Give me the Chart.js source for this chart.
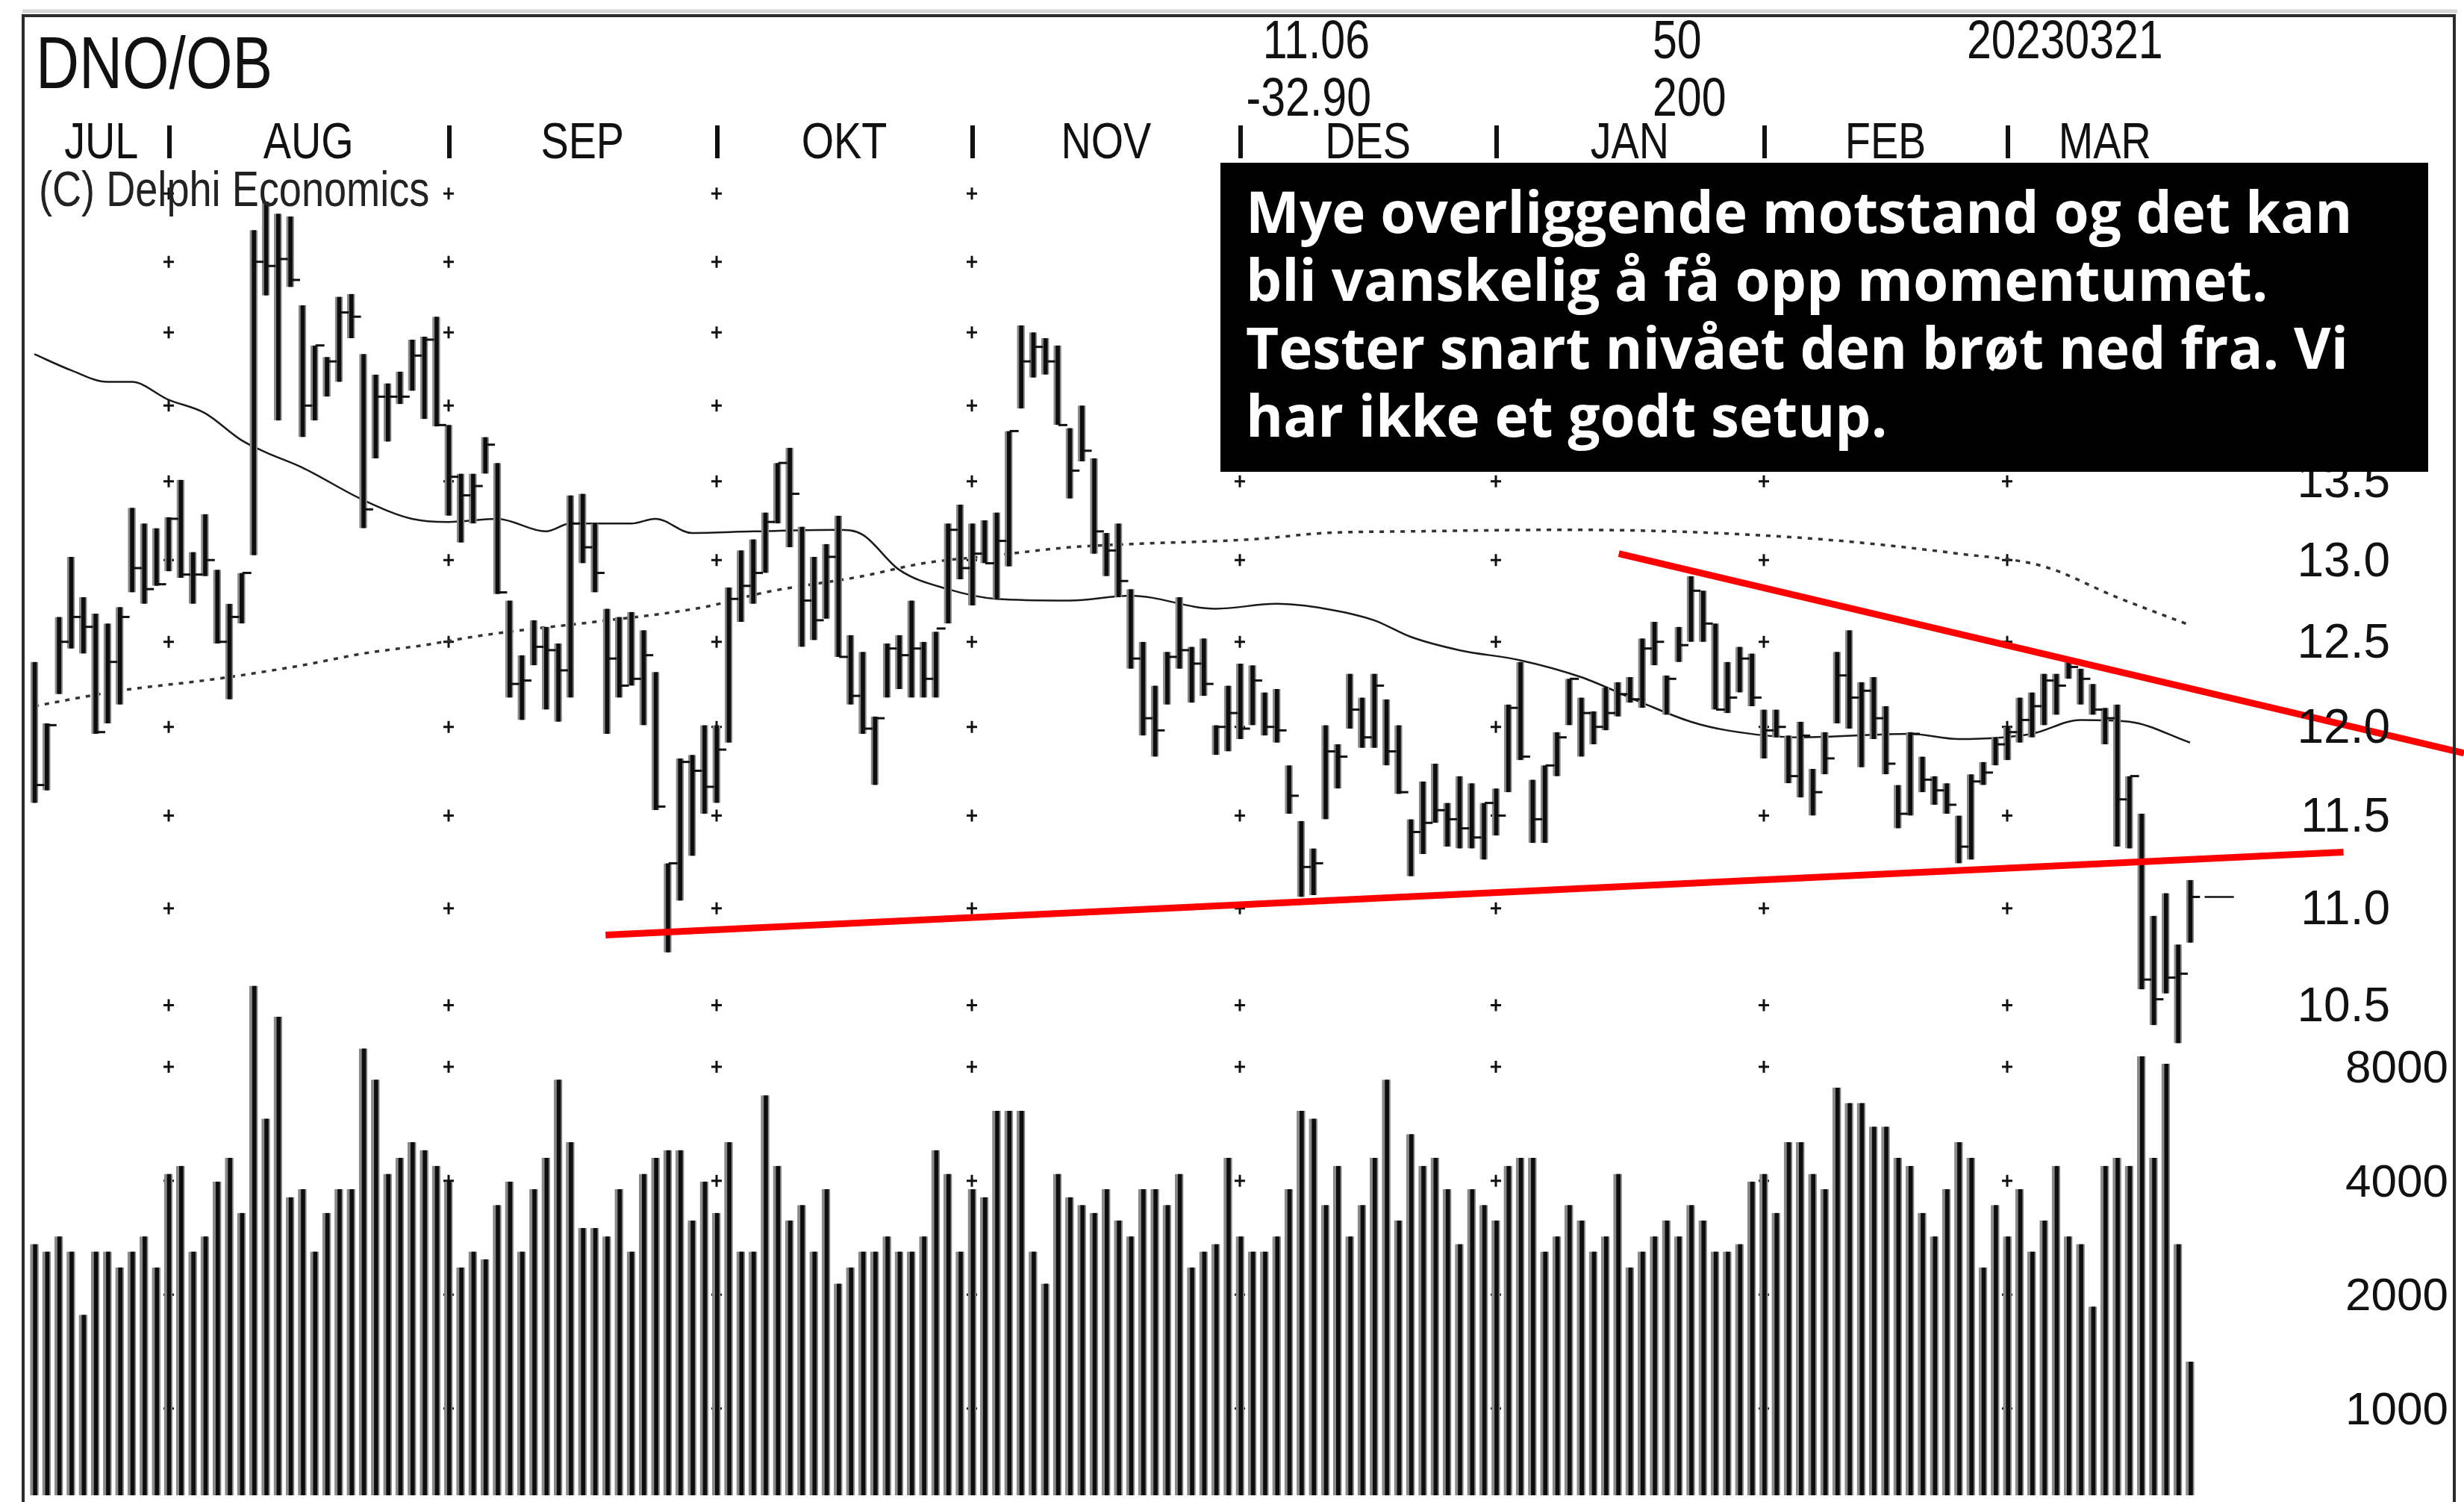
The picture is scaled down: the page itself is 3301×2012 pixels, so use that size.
<!DOCTYPE html>
<html>
<head>
<meta charset="utf-8">
<title>DNO/OB</title>
<script src="https://cdn.jsdelivr.net/npm/chart.js@4.4.1/dist/chart.umd.min.js"></script>
<style>
  html, body { margin: 0; padding: 0; background: #fff; }
  #wrap { width: 3301px; height: 2012px; }
</style>
</head>
<body>
<div id="wrap"><canvas id="chart1" width="3301" height="2012"></canvas></div>
<script>
// --- data (daily bars, 15 Jul 2022 - 21 Mar 2023) ---
const ticker = "DNO/OB";
const months = ["JUL", "AUG", "SEP", "OKT", "NOV", "DES", "JAN", "FEB", "MAR"];
const monthStart = [0, 11, 34, 56, 77, 99, 120, 142, 162]; // bar index of first day in month
const lastBar = 177;

const highs = [12.38,12.02,12.65,13.02,12.77,12.67,12.61,12.71,13.33,13.23,13.20,13.27,13.51,13.05,13.29,12.94,12.73,12.92,15.23,15.44,
  15.35,15.33,14.69,14.41,14.33,14.75,14.77,14.35,14.21,14.15,14.23,14.45,14.47,14.61,13.87,13.55,13.55,13.79,13.62,12.75,
  12.42,12.63,12.59,12.49,13.41,13.42,13.23,12.70,12.65,12.68,12.57,12.32,11.24,11.82,11.84,12.01,12.01,12.83,13.06,13.13,
  13.30,13.62,13.72,13.21,13.02,13.10,13.28,12.54,12.44,12.06,12.49,12.54,12.75,12.50,12.56,13.23,13.35,13.23,13.25,13.30,
  13.83,14.55,14.50,14.46,14.41,13.85,14.00,13.65,13.17,13.23,12.82,12.50,12.24,12.44,12.77,12.47,12.52,12.01,12.24,12.37,
  12.36,12.20,12.22,11.78,11.47,11.32,12.01,11.90,12.31,12.17,12.31,12.16,12.01,11.48,11.69,11.79,11.57,11.72,11.68,11.57,
  11.65,12.13,12.38,11.70,11.78,11.97,12.28,12.17,12.09,12.23,12.26,12.29,12.52,12.62,12.30,12.59,12.90,12.81,12.61,12.38,
  12.47,12.43,12.10,12.10,11.95,12.03,11.76,11.97,12.44,12.57,12.26,12.29,12.12,11.67,11.97,11.83,11.72,11.68,11.50,11.73,
  11.80,11.94,12.00,12.17,12.20,12.31,12.31,12.40,12.34,12.25,12.11,12.13,11.72,11.51,10.96,11.08,10.81,11.15];
const lows = [11.57,11.64,12.19,12.46,12.43,11.96,12.02,12.13,12.80,12.73,12.84,12.93,12.89,12.73,12.90,12.49,12.16,12.61,13.03,14.76,
  13.90,14.82,13.79,13.90,14.06,14.16,14.46,13.20,13.65,13.76,14.01,14.10,13.91,13.86,13.28,13.11,13.23,13.55,12.79,12.17,
  12.04,12.36,12.10,12.03,12.17,12.98,12.80,11.96,12.17,12.24,12.01,11.53,10.77,11.04,11.28,11.51,11.57,11.91,12.62,12.73,
  12.92,13.23,13.08,12.47,12.51,12.64,12.41,12.13,11.96,11.67,12.17,12.22,12.17,12.17,12.17,12.61,12.88,12.72,12.98,12.76,
  12.96,13.98,14.19,14.21,13.87,13.39,13.63,13.04,12.90,12.77,12.34,11.95,11.83,12.13,12.34,12.14,12.18,11.84,11.86,11.93,
  12.01,11.95,11.91,11.51,11.06,11.07,11.48,11.65,11.99,11.88,11.88,11.78,11.62,11.17,11.29,11.46,11.33,11.32,11.32,11.26,
  11.39,11.63,11.81,11.35,11.35,11.72,12.01,11.83,11.90,11.98,12.06,12.14,12.11,12.36,12.07,12.38,12.50,12.50,12.10,12.08,
  12.20,12.12,11.82,11.94,11.68,11.60,11.50,11.73,12.02,11.99,11.77,11.93,11.73,11.43,11.50,11.63,11.56,11.51,11.24,11.26,
  11.67,11.78,11.81,11.91,11.94,12.01,12.07,12.28,12.13,12.07,11.90,11.33,11.32,10.58,10.40,10.56,10.31,10.82];
const closes = [11.67,12.01,12.50,12.65,12.59,11.97,12.38,12.65,12.95,12.82,12.85,13.26,12.91,12.91,13.00,12.50,12.65,12.92,15.00,14.97,
  15.02,14.87,14.00,14.41,14.30,14.64,14.61,13.32,14.06,14.06,14.06,14.34,14.45,13.87,13.53,13.41,13.47,13.74,12.80,12.25,
  12.27,12.47,12.45,12.33,13.23,13.08,12.92,12.40,12.24,12.28,12.42,11.55,11.24,11.80,11.75,11.66,11.87,12.76,12.84,12.92,
  13.24,13.62,13.42,12.75,12.63,13.02,12.41,12.18,11.99,12.05,12.46,12.42,12.46,12.28,12.58,13.19,12.95,13.04,12.98,13.12,
  13.83,14.30,14.40,14.30,13.87,13.57,13.70,13.18,13.06,12.87,12.40,12.05,11.98,12.41,12.45,12.37,12.25,12.00,12.08,11.99,
  12.27,12.00,11.98,11.61,11.22,11.24,11.86,11.83,12.10,11.94,12.24,11.86,11.63,11.41,11.46,11.53,11.48,11.43,11.38,11.57,
  11.50,12.11,11.83,11.48,11.78,11.94,12.28,12.08,12.00,12.08,12.19,12.16,12.46,12.50,12.28,12.48,12.81,12.61,12.10,12.17,
  12.40,12.17,11.98,12.00,11.72,11.95,11.63,11.82,12.30,12.17,12.21,12.05,11.79,11.51,11.96,11.70,11.64,11.56,11.33,11.69,
  11.74,11.90,11.97,12.04,12.12,12.27,12.24,12.35,12.28,12.10,12.05,11.59,11.72,10.63,10.53,10.64,10.66,11.06];
const volumes = [2720,2600,2850,2600,1770,2600,2600,2360,2600,2850,2360,4170,4380,2600,2850,3980,4600,3290,13100,5840,
  10850,3620,3800,2600,3290,3800,3800,8950,7400,4170,4600,5060,4820,4380,3980,2360,2600,2480,3450,3980,
  2600,3800,4600,7400,5060,3000,3000,2850,3800,2600,4170,4600,4820,4820,3140,3980,3290,5060,2600,2600,
  6730,4380,3140,3450,2600,3800,2140,2360,2600,2600,2850,2600,2600,2850,4820,4170,2600,3800,3620,6120,
  6120,6120,2600,2140,4170,3620,3450,3290,3800,3140,2850,3800,3800,3450,4170,2360,2600,2720,4600,2850,
  2600,2600,2850,3800,6120,5840,3450,4380,2850,3450,4600,7400,3140,5310,4380,4600,3800,2720,3800,3450,
  3140,4380,4600,4600,2600,2850,3450,3140,2600,2850,4170,2360,2600,2850,3140,2850,3450,3140,2600,2600,
  2720,3980,4170,3290,5060,5060,4170,3800,7050,6420,6420,5560,5560,4600,4380,3290,2850,3800,5060,4600,
  2360,3450,2850,3800,2600,3140,4380,2850,2720,1860,4380,4600,4380,8530,4600,8150,2720,1330];

// moving averages read at sample bars
const ma50Idx = [0,3,6,8,11,14,17,19,22,27,31,34,38,42,44,49,51,54,59,66,68,71,75,79,85,90,97,102,106,110,113,117,122,127,132,136,139,145,154,158,164,168,172,177];
const ma50 = [14.35,14.24,14.16,14.16,14.04,13.95,13.77,13.69,13.59,13.38,13.26,13.24,13.26,13.18,13.23,13.23,13.26,13.17,13.18,13.19,13.16,12.94,12.82,12.76,12.75,12.78,12.70,12.73,12.70,12.63,12.53,12.45,12.39,12.29,12.14,12.03,11.98,11.94,11.96,11.93,11.96,12.04,12.03,11.91];
const ma200Idx = [0,7,15,22,27,32,36,40,46,55,60,68,73,79,85,90,100,106,113,126,145,158,165,171,177];
const ma200 = [12.12,12.21,12.28,12.36,12.43,12.48,12.53,12.57,12.62,12.71,12.80,12.90,12.98,13.03,13.08,13.10,13.13,13.17,13.18,13.19,13.14,13.04,12.96,12.77,12.60];

// hand drawn trend lines (bar index, price)
const supportX = [46.9, 189.6];
const supportY = [10.86, 11.30];
const resistX = [130.1, 199.5];
const resistY = [13.04, 11.85];

const priceTicks = [10.5, 11.0, 11.5, 12.0, 12.5, 13.0, 13.5, 14.0, 14.5, 15.0, 15.5];
const priceLabels = ["10.5", "11.0", "11.5", "12.0", "12.5", "13.0", "13.5", "14.0", "14.5", "15.0", "15.5"];
const volumeTicks = [1000, 2000, 4000, 8000];

const headerTop = ["11.06", "50", "20230321"];
const headerBottom = ["-32.90", "200"];
const copyright = "(C) Delphi Economics";
const comment = [
  "Mye overliggende motstand og det kan",
  "bli vanskelig å få opp momentumet.",
  "Tester snart nivået den brøt ned fra. Vi",
  "har ikke et godt setup."
];

const NARROW = '"Liberation Sans Narrow", "Arial Narrow", "Liberation Sans", Arial, sans-serif';

// draws text squeezed to the width an Arial Narrow face would give
function narrowText(c, text, x, y, size, align) {
  c.save();
  c.font = "100px " + NARROW;
  const sx = 177.7 / c.measureText("AUG").width;
  c.font = size + "px " + NARROW;
  c.translate(x, y);
  c.scale(sx, 1);
  c.textAlign = align;
  c.fillText(text, 0, 0);
  c.restore();
}

const decor = {
  id: "decor",
  beforeDraw(chart) {
    const c = chart.ctx;
    c.save();
    c.fillStyle = "#fff";
    c.fillRect(0, 0, chart.width, chart.height);
    c.restore();
  },
  beforeDatasetsDraw(chart) {
    const c = chart.ctx;
    const xs = chart.scales.x, yp = chart.scales.y, yv = chart.scales.yVol;
    c.save();
    c.strokeStyle = "#111";
    c.lineWidth = 3;
    for (const m of monthStart.slice(1)) {
      const px = Math.round(xs.getPixelForValue(m));
      const rows = priceTicks.map(v => yp.getPixelForValue(v)).concat(volumeTicks.map(v => yv.getPixelForValue(v)));
      for (const py of rows) {
        c.beginPath();
        c.moveTo(px - 7, py); c.lineTo(px + 7, py);
        c.moveTo(px, py - 8); c.lineTo(px, py + 8);
        c.stroke();
      }
    }
    c.restore();
  },
  afterDraw(chart) {
    const c = chart.ctx;
    const xs = chart.scales.x, yp = chart.scales.y, yv = chart.scales.yVol;
    c.save();
    c.fillStyle = "#111";
    c.textBaseline = "middle";

    // axis labels
    c.textAlign = "right";
    c.font = '64px "Liberation Sans", Arial, sans-serif';
    priceTicks.forEach((v, i) => c.fillText(priceLabels[i], 3202, yp.getPixelForValue(v) + 4));
    c.font = '62px "Liberation Sans", Arial, sans-serif';
    volumeTicks.forEach(v => c.fillText(String(v), 3280, yv.getPixelForValue(v) + 4));

    // header
    c.textBaseline = "alphabetic";
    narrowText(c, ticker, 48, 118, 98, "left");
    narrowText(c, headerTop[0], 1835, 78, 72, "right");
    narrowText(c, headerBottom[0], 1837, 155, 72, "right");
    narrowText(c, headerTop[1], 2214, 78, 72, "left");
    narrowText(c, headerBottom[1], 2214, 155, 72, "left");
    narrowText(c, headerTop[2], 2635, 78, 72, "left");

    // month row
    months.forEach((m, i) => {
      const next = i + 1 < monthStart.length ? monthStart[i + 1] : lastBar + 1;
      narrowText(c, m, xs.getPixelForValue((monthStart[i] + next) / 2), 212, 68, "center");
    });
    for (const m of monthStart.slice(1)) {
      const px = Math.round(xs.getPixelForValue(m));
      c.fillRect(px - 2, 168, 6, 44);
    }
    c.fillStyle = "#222";
    narrowText(c, copyright, 52, 276, 66, "left");

    // comment box
    c.fillStyle = "#000";
    c.fillRect(1635, 218, 3253 - 1635, 632 - 218);
    c.fillStyle = "#fff";
    c.textAlign = "left";
    let size = 68;
    c.font = "bold " + size + 'px "Open Sans", "Noto Sans", sans-serif';
    size = size * 1482 / c.measureText(comment[0]).width;
    c.font = "bold " + size.toFixed(1) + 'px "Open Sans", "Noto Sans", sans-serif';
    comment.forEach((t, i) => c.fillText(t, 1669, 312 + i * 91));

    // frame
    c.strokeStyle = "#d6d6d6";
    c.lineWidth = 5;
    c.beginPath(); c.moveTo(30, 15); c.lineTo(3292, 15); c.stroke();
    c.strokeStyle = "#2b2b2b";
    c.lineWidth = 4;
    c.beginPath();
    c.moveTo(31, 2012); c.lineTo(31, 21); c.lineTo(3288, 21); c.lineTo(3288, 2012);
    c.stroke();
    c.restore();
  }
};

const barStyle = {
  backgroundColor: "#0d0d0d",
  borderColor: "#8a8a8a",
  borderSkipped: false,
  grouped: false
};

const ctx = document.getElementById("chart1");
const chart = new Chart(ctx, {
  type: "bar",
  data: {
    datasets: [
      {
        ...barStyle,
        label: "Volum",
        yAxisID: "yVol",
        order: 10,
        barThickness: 11,
        borderWidth: { left: 4, right: 2, top: 0, bottom: 0 },
        data: volumes.map((v, i) => ({ x: i, y: v }))
      },
      {
        type: "line",
        label: "MA200",
        yAxisID: "y",
        order: 6,
        borderColor: "#333",
        borderWidth: 3.5,
        borderDash: [6, 8],
        pointRadius: 0,
        cubicInterpolationMode: "monotone",
        data: ma200Idx.map((x, i) => ({ x, y: ma200[i] }))
      },
      {
        type: "line",
        label: "MA50",
        yAxisID: "y",
        order: 5,
        borderColor: "#1a1a1a",
        borderWidth: 2.5,
        pointRadius: 0,
        cubicInterpolationMode: "monotone",
        data: ma50Idx.map((x, i) => ({ x, y: ma50[i] }))
      },
      {
        ...barStyle,
        label: "Kurs",
        yAxisID: "y",
        order: 3,
        barThickness: 10,
        borderWidth: { left: 3, right: 2, top: 0, bottom: 0 },
        data: highs.map((h, i) => ({ x: i, y: [lows[i], h] }))
      },
      {
        type: "line",
        label: "Slutt",
        yAxisID: "y",
        order: 2,
        showLine: false,
        pointStyle: "line",
        pointRadius: 6,
        pointBorderWidth: 3,
        pointBorderColor: "#111",
        data: closes.map((v, i) => ({ x: i + 0.45, y: v }))
      },
      {
        type: "line",
        label: "Siste",
        yAxisID: "y",
        order: 2,
        borderColor: "#111",
        borderWidth: 2.5,
        pointRadius: 0,
        data: [{ x: lastBar + 1.2, y: closes[lastBar] }, { x: lastBar + 3.6, y: closes[lastBar] }]
      },
      {
        type: "line",
        label: "Støtte",
        yAxisID: "y",
        order: 1,
        clip: false,
        borderColor: "#ff0000",
        borderWidth: 9,
        pointRadius: 0,
        data: supportX.map((x, i) => ({ x, y: supportY[i] }))
      },
      {
        type: "line",
        label: "Motstand",
        yAxisID: "y",
        order: 1,
        clip: false,
        borderColor: "#ff0000",
        borderWidth: 9,
        pointRadius: 0,
        data: resistX.map((x, i) => ({ x, y: resistY[i] }))
      }
    ]
  },
  options: {
    responsive: false,
    devicePixelRatio: 1,
    animation: false,
    events: [],
    layout: { padding: { left: 32, top: 21, right: 13, bottom: 0 } },
    scales: {
      x: { type: "linear", min: -0.86, max: 198.7, offset: false, display: false },
      y: { type: "logarithmic", min: 8.30, max: 16.88, bounds: "data", display: false },
      yVol: { type: "logarithmic", min: 590, max: 4800000, bounds: "data", display: false }
    },
    plugins: {
      legend: { display: false },
      tooltip: { enabled: false }
    }
  },
  plugins: [decor]
});
</script>
</body>
</html>
